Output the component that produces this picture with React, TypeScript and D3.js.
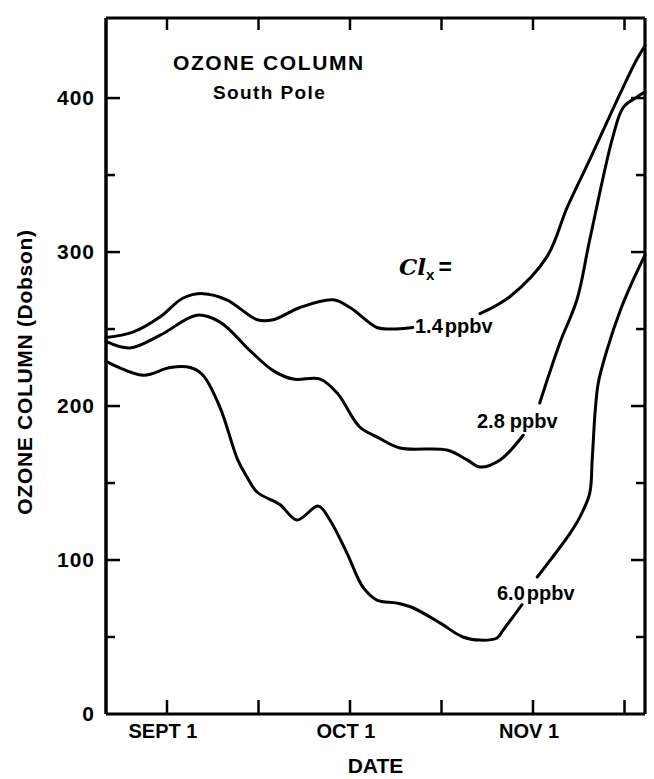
import React from "react";
import * as d3 from "d3";

// ---- data (days after Sept 1, ozone column in Dobson units) ----
const days14 = [-10, -5.6, -1.1, 2.6, 5.9, 9.8, 14.8, 17.4, 21.8, 27.2, 30.0, 34.4, 36.6, 40.3, 45, 51.3, 56.2, 62.3, 65.6, 69.3, 74.3, 77.0, 78.36];
const ozone14 = [244.5, 248, 258, 270, 273, 269, 256, 256, 264, 269, 264, 251, 250, 251, null, 260, 271, 297, 329, 360, 403, 425, 434];

const days28 = [-10, -6.1, -1.1, 4.9, 8.7, 13.6, 17.4, 20.7, 25.1, 27.9, 31.6, 34.4, 38.2, 45.9, 49.2, 51.3, 54.6, 58.4, 59.5, 61.1, 64.4, 67.2, 69.3, 73.1, 74.8, 77.0, 78.36];
const ozone28 = [242, 237.7, 246, 259, 254.5, 236, 223, 217.5, 217.5, 208.4, 186.4, 180, 172.7, 171.4, 165, 160.4, 165, 181, null, 202, 241, 269, 308, 375, 394, 400.6, 404];

const days60 = [-10, -3.9, 0.5, 3.8, 5.9, 8.7, 11.6, 13.1, 14.8, 18.5, 21.3, 24.8, 26.7, 29.5, 32.1, 34.4, 37.7, 40.3, 44.8, 48.5, 51.3, 54.1, 55.1, 58.2, 59.5, 60.7, 66.1, 67.7, 69.3, 69.7, 70.2, 70.7, 72.1, 74.3, 76.2, 78.36];
const ozone60 = [229, 220, 225, 225, 220, 199, 165, 154, 144, 136, 126, 135, 126, 104.5, 82.5, 74, 72, 69, 59, 50, 48, 49.4, 54.5, 71, null, 89, 117.5, 128, 143.5, 165, 197, 215, 236, 262, 280, 298];

const seriesLabels = ["1.4", "2.8", "6.0"];
const majorYTicks = [0, 100, 200, 300, 400];
const minorYTicks = [50, 150, 250, 350];
const xTickDays = [0, 15, 30, 45, 60, 75];
const xLabelDays = [0, 30, 60];
const xLabels = ["SEPT 1", "OCT 1", "NOV 1"];

const W = 654;
const H = 779;
const L = 106, R = 645, T = 18, B = 714;
const FONT = "'Liberation Sans', Arial, sans-serif";

export default function App() {
  const x = d3.scaleLinear().domain([-10, 78.36]).range([L, R]);
  const y = d3.scaleLinear().domain([0, 452]).range([B, T]);

  const line = d3
    .line<[number, number | null]>()
    .defined((d) => d[1] !== null)
    .x((d) => x(d[0]))
    .y((d) => y(d[1] as number))
    .curve(d3.curveCatmullRom.alpha(0.5));

  const series: [number, number | null][][] = [
    days14.map((d, i) => [d, ozone14[i]]),
    days28.map((d, i) => [d, ozone28[i]]),
    days60.map((d, i) => [d, ozone60[i]]),
  ];

  const labelPos = [
    { x: 415, y: 333 },
    { x: 477, y: 428 },
    { x: 497, y: 600 },
  ];

  return (
    <svg
      width={W}
      height={H}
      viewBox={`0 0 ${W} ${H}`}
      style={{ position: "absolute", left: 0, top: 0, background: "#fff" }}
      fontFamily={FONT}
    >
      <rect x={0} y={0} width={W} height={H} fill="#fff" />
      {/* curves */}
      {series.map((s, i) => (
        <path key={i} d={line(s) || ""} fill="none" stroke="#000" strokeWidth={3} strokeLinejoin="round" strokeLinecap="round" />
      ))}
      {/* frame */}
      <line x1={L} y1={T} x2={L} y2={B} stroke="#000" strokeWidth={3.5} />
      <line x1={L} y1={B} x2={R} y2={B} stroke="#000" strokeWidth={3.2} />
      <line x1={L} y1={T} x2={R} y2={T} stroke="#000" strokeWidth={2.8} />
      <line x1={R} y1={T} x2={R} y2={B} stroke="#000" strokeWidth={3.2} />
      {/* y ticks */}
      {majorYTicks.filter((v) => v > 0).map((v) => (
        <g key={"my" + v}>
          <line x1={L} x2={L + 14} y1={y(v)} y2={y(v)} stroke="#000" strokeWidth={2.5} />
          <line x1={R} x2={R - 14} y1={y(v)} y2={y(v)} stroke="#000" strokeWidth={2.5} />
        </g>
      ))}
      {minorYTicks.map((v) => (
        <g key={"ny" + v}>
          <line x1={L} x2={L + 9} y1={y(v)} y2={y(v)} stroke="#000" strokeWidth={2.5} />
          <line x1={R} x2={R - 9} y1={y(v)} y2={y(v)} stroke="#000" strokeWidth={2.5} />
        </g>
      ))}
      {majorYTicks.map((v) => (
        <text key={"yl" + v} x={95} y={y(v) + 7} textAnchor="end" fontSize={21} fontWeight="bold" letterSpacing={1}>
          {v}
        </text>
      ))}
      {/* x ticks */}
      {xTickDays.map((d) => (
        <g key={"xt" + d}>
          <line x1={x(d)} x2={x(d)} y1={B} y2={B - 14} stroke="#000" strokeWidth={2.5} />
          <line x1={x(d)} x2={x(d)} y1={T} y2={T + 12} stroke="#000" strokeWidth={2.5} />
        </g>
      ))}
      {xLabelDays.map((d, i) => (
        <text key={"xl" + d} x={x(d) - 4} y={738} textAnchor="middle" fontSize={20} fontWeight="bold">
          {xLabels[i]}
        </text>
      ))}
      {/* axis titles */}
      <text x={(L + R) / 2} y={773} textAnchor="middle" fontSize={21} fontWeight="bold">
        DATE
      </text>
      <text
        transform={`translate(32, 372) rotate(-90)`}
        textAnchor="middle"
        fontSize={21}
        fontWeight="bold"
        letterSpacing={0.7}
      >
        OZONE COLUMN (Dobson)
      </text>
      {/* title */}
      <text x={173} y={70} fontSize={21} fontWeight="bold" letterSpacing={1.6}>
        OZONE COLUMN
      </text>
      <text x={213} y={99} fontSize={19} fontWeight="bold" letterSpacing={1.4}>
        South Pole
      </text>
      {/* Cl_x = */}
      <text x={399} y={275} fontSize={23} fontWeight="bold">
        <tspan fontStyle="italic" fontFamily="'DejaVu Serif', serif">Cl</tspan>
        <tspan fontSize={15} dy={5}>x</tspan>
        <tspan dy={-5} dx={4}>=</tspan>
      </text>
      {/* series labels */}
      {seriesLabels.map((s, i) => (
        <text key={"sl" + i} x={labelPos[i].x} y={labelPos[i].y} fontSize={20} fontWeight="bold">
          {s}
          <tspan dx={i === 1 ? 5 : 2}>ppbv</tspan>
        </text>
      ))}
    </svg>
  );
}
